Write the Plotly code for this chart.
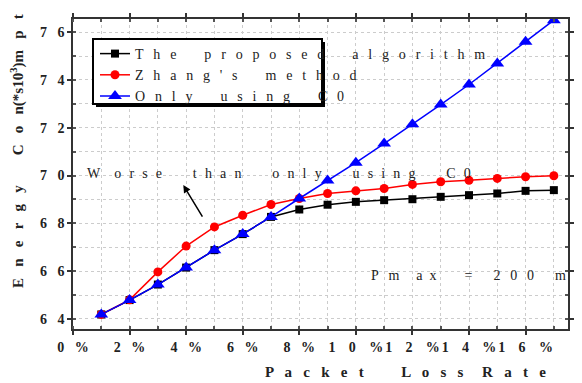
import plotly.graph_objects as go

# ---- data ----
loss_rate = list(range(1, 18))  # packet loss rate, %
proposed = [64.19, 64.79, 65.44, 66.15, 66.88, 67.55, 68.27, 68.58, 68.78, 68.90,
            68.97, 69.01, 69.11, 69.18, 69.25, 69.36, 69.39]
zhang = [64.19, 64.80, 65.97, 67.05, 67.85, 68.34, 68.79, 69.04, 69.25, 69.36,
         69.46, 69.63, 69.74, 69.80, 69.88, 69.95, 69.99]
only_c0 = [64.19, 64.79, 65.44, 66.15, 66.88, 67.55, 68.27, 69.04, 69.79, 70.54,
           71.34, 72.15, 72.97, 73.81, 74.69, 75.60, 76.50]

x_tick_vals = [0, 2, 4, 6, 8, 10, 12, 14, 16]
x_tick_text = ["0\u2002 %", "2\u2002 %", "4\u2002 %", "6\u2002 %", "8\u2002 %",
               "1\u2002\u2009 0\u2002\u2009 %", "1\u2002\u2009 2\u2002\u2009 %",
               "1\u2002\u2009 4\u2002\u2009 %", "1\u2002\u2009 6\u2002\u2009 %"]
y_tick_vals = [64, 66, 68, 70, 72, 74, 76]
y_tick_text = ["6 \u20024", "6 \u20026", "6 \u20028", "7 \u20020", "7 \u20022", "7 \u20024", "7 \u20026"]

SERIF = "Times New Roman, Liberation Serif, serif"
TXT = "#222222"


def spaced(s, sep="\u2002\u2009", wsep="\u2003\u2003"):
    return wsep.join(sep.join(list(w)) for w in s.split(" "))


fig = go.Figure()
fig.add_trace(go.Scatter(x=loss_rate, y=proposed, mode="lines+markers",
                         name=spaced("The proposed algorithm"),
                         line=dict(color="black", width=1.5),
                         marker=dict(symbol="square", size=8, color="black")))
fig.add_trace(go.Scatter(x=loss_rate, y=zhang, mode="lines+markers",
                         name=spaced("Zhang's method"),
                         line=dict(color="#ff0000", width=1.5),
                         marker=dict(symbol="circle", size=9, color="#ff0000")))
fig.add_trace(go.Scatter(x=loss_rate, y=only_c0, mode="lines+markers",
                         name=spaced("Only using C0"),
                         line=dict(color="#0000ff", width=1.5),
                         marker=dict(symbol="triangle-up", size=12, color="#0000ff")))

axis_common = dict(showline=True, linecolor="#333333", linewidth=1.5, mirror="ticks",
                   ticks="outside", ticklen=4, tickwidth=1.5, tickcolor="#333333",
                   showgrid=False, zeroline=False, automargin=False, tickangle=0,
                   tickfont=dict(family=SERIF, size=14, color=TXT, weight="bold"))

fig.update_xaxes(range=[0, 17.5], tickvals=x_tick_vals, ticktext=x_tick_text,
                 minor=dict(dtick=1, tick0=0, ticks="inside", ticklen=3, tickcolor="#555555",
                            showgrid=True, griddash="dot", gridcolor="#cccccc", gridwidth=1),
                 **axis_common)
fig.update_yaxes(range=[63.58, 76.55], tickvals=y_tick_vals, ticktext=y_tick_text,
                 minor=dict(dtick=1, tick0=64, ticks="inside", ticklen=3, tickcolor="#555555",
                            showgrid=True, griddash="dot", gridcolor="#cccccc", gridwidth=1),
                 **axis_common)

# page has an 8px body margin: the figure itself starts at (8, 8) in the window
OFF = 8
W, H = 582 - OFF, 383 - OFF
L, R, T, B = 73 - OFF, 14, 19 - OFF, 54
pw, ph = W - L - R, H - T - B


def px(xp):  # window pixel -> paper fraction
    return (xp - OFF - L) / pw


def py(yp):
    return (H - B - (yp - OFF)) / ph


# legend box with drop shadow
fig.add_shape(type="rect", xref="paper", yref="paper",
              x0=px(96), x1=px(325), y0=py(107), y1=py(42),
              fillcolor="black", line=dict(width=0), layer="above")
fig.add_shape(type="rect", xref="paper", yref="paper",
              x0=px(93), x1=px(322), y0=py(104), y1=py(39),
              fillcolor="white", line=dict(color="black", width=2), layer="above")

x_title = "\u2003\u2003\u2002".join([
    " \u2002".join("Packet"),
    "\u2003 ".join([" \u2002".join("Loss"), " \u2002".join("Rate")]),
])
y_title = ("E \u2002n \u2002e \u2002r \u2002g \u2002y\u2003\u2003C \u2002o \u2002n"
           "(*s10<sup>3</sup>)m \u2002p \u2002t")
worse = "W\u2003" + spaced("orse than only using C0", sep="\u2002\u200a", wsep="\u2003\u2003\u2009")
pmax = ("P\u2002\u2009m\u2003\u2009a\u2002x\u2003\u2003=\u2003\u20022"
        "\u2002\u20090\u2002\u20090\u2003\u2002m")

fig.update_layout(
    width=W, height=H,
    margin=dict(l=L, r=R, t=T, b=B, autoexpand=False),
    paper_bgcolor="white", plot_bgcolor="white",
    showlegend=True,
    legend=dict(x=px(95), y=py(38), xanchor="left", yanchor="top",
                bgcolor="rgba(0,0,0,0)", borderwidth=0, tracegroupgap=0,
                font=dict(family=SERIF, size=14, color=TXT)),
    annotations=[
        dict(text=x_title,
             xref="paper", yref="paper", x=px(405), y=py(372), xanchor="center", yanchor="middle",
             showarrow=False, font=dict(family=SERIF, size=15, color=TXT, weight="bold")),
        dict(text=y_title,
             xref="paper", yref="paper", x=px(17), y=py(151), xanchor="center", yanchor="middle",
             showarrow=False, textangle=-90,
             font=dict(family=SERIF, size=15, color=TXT, weight="bold")),
        dict(text=worse,
             xref="x", yref="y", x=0.44, y=70.1, xanchor="left", yanchor="middle", showarrow=False,
             font=dict(family=SERIF, size=14, color=TXT)),
        dict(text="", xref="x", yref="y", x=3.9, y=69.6, ax=20, ay=33,
             showarrow=True, arrowhead=2, arrowsize=1, arrowwidth=1.5, arrowcolor="black"),
        dict(text=pmax,
             xref="x", yref="y", x=10.45, y=65.83, xanchor="left", yanchor="middle", showarrow=False,
             font=dict(family=SERIF, size=14, color=TXT)),
    ],
)

fig.write_html("out.html")
